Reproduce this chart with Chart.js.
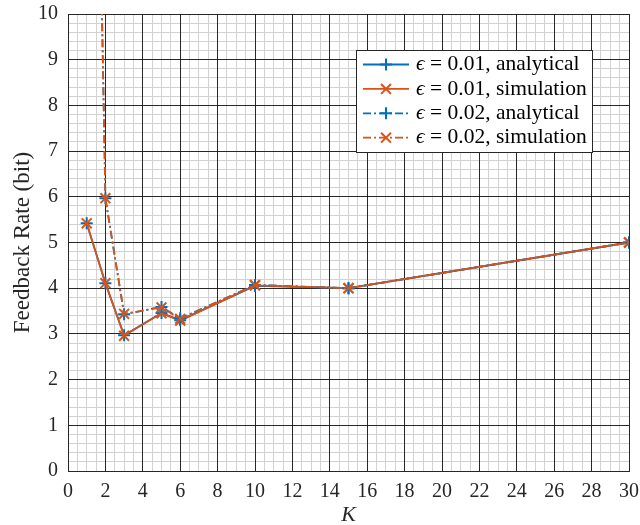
<!DOCTYPE html>
<html>
<head>
<meta charset="utf-8">
<script src="https://cdn.jsdelivr.net/npm/chart.js@4"></script>
<style>
  html, body { margin: 0; padding: 0; background: #fff; }
  canvas { display: block; }
</style>
</head>
<body>
<canvas id="c" width="640" height="525"></canvas>
<script>
// ---- data ----
const K = [1, 2, 3, 5, 6, 10, 15, 30];
const rate001Analytical = [5.42, 4.11, 2.97, 3.46, 3.30, 4.05, 4.00, 5.00];
const rate001Simulation = [5.42, 4.11, 2.96, 3.45, 3.29, 4.06, 4.00, 5.00];
const rate002Analytical = [28, 5.97, 3.43, 3.59, 3.34, 4.07, 4.00, 5.00];
const rate002Simulation = [28, 5.97, 3.44, 3.58, 3.33, 4.07, 4.00, 5.00];
const legendLabels = ['ϵ = 0.01, analytical', 'ϵ = 0.01, simulation', 'ϵ = 0.02, analytical', 'ϵ = 0.02, simulation'];
const xTickMin = 0, xTickMax = 30, xTickStep = 2, xMinorStep = 0.5;
const yTickMin = 0, yTickMax = 10, yTickStep = 1, yMinorStep = 0.2;

const BLUE = '#0072BD', ORANGE = '#D95319';
const SERIF = '"Liberation Serif", "Times New Roman", "DejaVu Serif", serif';
const DASHDOT = [8, 3, 2, 3];

function pts(xs, ys) { return xs.map((x, i) => ({ x: x, y: ys[i] })); }

const datasets = [
  { label: legendLabels[0], data: pts(K, rate001Analytical), borderColor: BLUE, pointStyle: 'cross', pointRadius: 6, borderDash: [], order: 4 },
  { label: legendLabels[1], data: pts(K, rate001Simulation), borderColor: ORANGE, pointStyle: 'crossRot', pointRadius: 7, borderDash: [], order: 3 },
  { label: legendLabels[2], data: pts(K, rate002Analytical), borderColor: BLUE, pointStyle: 'cross', pointRadius: 6, borderDash: DASHDOT, order: 2 },
  { label: legendLabels[3], data: pts(K, rate002Simulation), borderColor: ORANGE, pointStyle: 'crossRot', pointRadius: 7, borderDash: DASHDOT, order: 1 }
].map(d => Object.assign({
  borderWidth: 1.8,
  pointBorderColor: d.borderColor,
  pointBackgroundColor: d.borderColor,
  pointBorderWidth: 2,
  pointHoverRadius: d.pointRadius,
  fill: false,
  tension: 0
}, d));

function drawMarker(ctx, style, r, x, y) {
  ctx.beginPath();
  if (style === 'cross') {
    ctx.moveTo(x - r, y); ctx.lineTo(x + r, y);
    ctx.moveTo(x, y - r); ctx.lineTo(x, y + r);
  } else {
    const o = r * Math.SQRT1_2;
    ctx.moveTo(x - o, y - o); ctx.lineTo(x + o, y + o);
    ctx.moveTo(x - o, y + o); ctx.lineTo(x + o, y - o);
  }
  ctx.stroke();
}

const legendPlugin = {
  id: 'matlabLegend',
  afterDraw(chart) {
    const ctx = chart.ctx;
    ctx.save();
    const bx = 356, by = 50, bw = 236, bh = 102;
    ctx.fillStyle = '#fff';
    ctx.fillRect(bx, by, bw, bh);
    ctx.strokeStyle = '#262626';
    ctx.lineWidth = 1;
    ctx.strokeRect(bx + 0.5, by + 0.5, bw, bh);
    chart.data.datasets.forEach((ds, i) => {
      const y = 64.5 + i * 24.4;
      ctx.strokeStyle = ds.borderColor;
      ctx.lineWidth = ds.borderWidth;
      ctx.setLineDash(ds.borderDash || []);
      ctx.beginPath();
      ctx.moveTo(363, y); ctx.lineTo(409, y);
      ctx.stroke();
      ctx.setLineDash([]);
      ctx.lineWidth = ds.pointBorderWidth;
      drawMarker(ctx, ds.pointStyle, ds.pointRadius, 386, y);
      ctx.fillStyle = '#000';
      ctx.textBaseline = 'middle';
      ctx.textAlign = 'left';
      const lab = ds.label;
      ctx.font = 'italic 21.5px ' + SERIF;
      const first = lab.charAt(0);
      ctx.fillText(first, 416, y);
      const w0 = ctx.measureText(first).width;
      ctx.font = '21.5px ' + SERIF;
      ctx.fillText(lab.slice(1), 416 + w0, y);
    });
    ctx.restore();
  }
};

const MAJOR = 'rgba(20,20,20,0.9)';
const MINOR = '#d2d2d2';

new Chart(document.getElementById('c'), {
  type: 'line',
  data: { datasets: datasets },
  plugins: [legendPlugin],
  options: {
    responsive: false,
    animation: false,
    devicePixelRatio: 1,
    layout: { padding: { left: 0, right: 11, top: 14, bottom: 0 } },
    plugins: { legend: { display: false }, tooltip: { enabled: false } },
    scales: {
      xMinor: {
        type: 'linear', position: 'bottom', min: xTickMin, max: xTickMax, z: -1,
        ticks: { display: false, stepSize: xMinorStep },
        grid: { color: MINOR, lineWidth: 1, drawTicks: false },
        border: { display: false },
        afterFit(s) { s.height = 0; s.paddingLeft = 0; s.paddingRight = 0; }
      },
      yMinor: {
        type: 'linear', position: 'left', min: yTickMin, max: yTickMax, z: -1,
        ticks: { display: false, stepSize: yMinorStep },
        grid: { color: MINOR, lineWidth: 1, drawTicks: false },
        border: { display: false },
        afterFit(s) { s.width = 0; s.paddingTop = 0; s.paddingBottom = 0; }
      },
      x: {
        type: 'linear', position: 'bottom', min: xTickMin, max: xTickMax,
        ticks: { stepSize: xTickStep, autoSkip: false, maxRotation: 0, padding: 9, color: '#262626', font: { family: SERIF, size: 20 } },
        grid: { color: MAJOR, lineWidth: 1, drawTicks: false },
        border: { display: true, color: '#262626', width: 1 },
        title: { display: true, text: 'K', color: '#262626', padding: { top: 0, bottom: 0 }, font: { family: SERIF, size: 22, style: 'italic', lineHeight: 0.9 } },
        afterFit(s) { s.height = 54; s.paddingLeft = 0; s.paddingRight = 0; }
      },
      y: {
        type: 'linear', position: 'left', min: yTickMin, max: yTickMax,
        ticks: { stepSize: yTickStep, autoSkip: false, padding: 10, color: '#262626', font: { family: SERIF, size: 20 } },
        grid: { color: MAJOR, lineWidth: 1, drawTicks: false },
        border: { display: true, color: '#262626', width: 1 },
        title: { display: true, text: 'Feedback Rate (bit)', color: '#262626', padding: { top: 9, bottom: 0 }, font: { family: SERIF, size: 23 } },
        afterFit(s) { s.width = 68; s.paddingTop = 0; s.paddingBottom = 0; }
      }
    }
  }
});
</script>
</body>
</html>
